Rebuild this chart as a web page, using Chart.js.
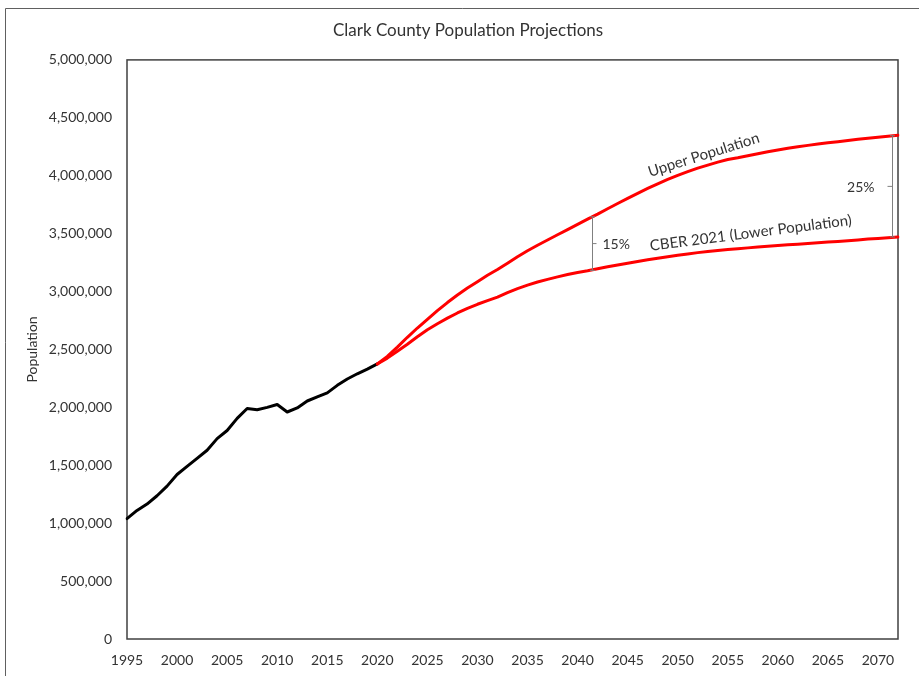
<!DOCTYPE html>
<html>
<head>
<meta charset="utf-8">
<script src="https://cdn.jsdelivr.net/npm/chart.js@4"></script>
<style>
  html, body { margin: 0; padding: 0; background: #fff; }
  #c { display: block; }
</style>
</head>
<body>
<canvas id="c" width="919" height="676"></canvas>
<script>
// ---- Data ----
const years = [1995,1996,1997,1998,1999,2000,2001,2002,2003,2004,2005,2006,2007,2008,2009,2010,
  2011,2012,2013,2014,2015,2016,2017,2018,2019,2020,2021,2022,2023,2024,2025,2026,2027,2028,2029,2030,
  2031,2032,2033,2034,2035,2036,2037,2038,2039,2040,2041,2042,2043,2044,2045,2046,2047,2048,2049,2050,
  2051,2052,2053,2054,2055,2056,2057,2058,2059,2060,2061,2062,2063,2064,2065,2066,2067,2068,2069,2070,
  2071,2072];

// Historical population 1995-2020
const historical = [1040000,1110000,1165000,1237000,1320000,1420000,1490000,1560000,1630000,1730000,
  1800000,1905000,1990000,1980000,2000000,2025000,1960000,1995000,2055000,2090000,2125000,2190000,
  2245000,2290000,2330000,2375000];

// Upper projection 2020-2072
const upperPopulation = [2375000,2440000,2520000,2605000,2685000,2760000,2835000,2905000,2970000,3030000,
  3085000,3140000,3190000,3245000,3300000,3352000,3400000,3445000,3490000,3535000,3580000,3625000,3668000,
  3715000,3760000,3805000,3848000,3890000,3930000,3968000,4003000,4035000,4065000,4092000,4117000,4140000,
  4155000,4172000,4190000,4207000,4222000,4237000,4250000,4262000,4273000,4284000,4294000,4304000,4314000,
  4323000,4332000,4341000,4350000];

// CBER 2021 (lower) projection 2020-2072
const lowerPopulation = [2375000,2425000,2485000,2545000,2610000,2670000,2722000,2770000,2815000,2855000,
  2890000,2922000,2952000,2990000,3025000,3055000,3082000,3105000,3127000,3147000,3165000,3180000,3197000,
  3214000,3230000,3245000,3260000,3274000,3288000,3301000,3313000,3325000,3336000,3346000,3355000,3363000,
  3370000,3377000,3384000,3391000,3397000,3403000,3409000,3415000,3421000,3427000,3433000,3439000,3446000,
  3453000,3459000,3465000,3471000];

const projectionStart = 2020;

// Gap annotations: label, year, upper value, lower value
const gapLabels = ['15%', '25%'];
const gapYears = [2041.4, 2071.4];
const gapTop = [3645000, 4345000];
const gapBottom = [3183000, 3471000];

// Curve labels
const curveLabels = ['Upper Population', 'CBER 2021 (Lower Population)'];
const curveLabelYears = [2052.6, 2057.3];
const curveLabelValues = [4180000, 3505000];
const curveLabelAngles = [-17.5, -7.3];

// ---- Build series aligned to category axis ----
const nHist = historical.length;
const histSeries = years.map((y, i) => i < nHist ? historical[i] : null);
const offs = years.indexOf(projectionStart);
const upperSeries = years.map((y, i) => i >= offs ? upperPopulation[i - offs] : null);
const lowerSeries = years.map((y, i) => i >= offs ? lowerPopulation[i - offs] : null);

const FONT = 'Lato, "Open Sans", sans-serif';
const TXT = '#333333';

const decor = {
  id: 'decor',
  beforeDraw(chart) {
    const c = chart.ctx;
    c.save();
    c.fillStyle = '#ffffff';
    c.fillRect(0, 0, chart.width, chart.height);
    c.strokeStyle = '#606060';
    c.lineWidth = 1;
    c.beginPath();
    c.moveTo(5.5, chart.height);
    c.lineTo(5.5, 8.5);
    c.lineTo(chart.width, 8.5);
    c.stroke();
    c.restore();
  },
  beforeDatasetsDraw(chart) {
    const c = chart.ctx;
    const a = chart.chartArea;
    c.save();
    c.strokeStyle = '#404040';
    c.lineWidth = 1.5;
    c.strokeRect(a.left, a.top, a.right - a.left, a.bottom - a.top);
    c.restore();
  },
  afterDatasetsDraw(chart) {
    const c = chart.ctx;
    const xs = chart.scales.x, ys = chart.scales.y;
    c.save();
    // gap brackets
    c.strokeStyle = '#808080';
    c.lineWidth = 1;
    c.fillStyle = TXT;
    c.font = '14px ' + FONT;
    c.textBaseline = 'middle';
    gapLabels.forEach((lab, i) => {
      const x = Math.round(xs.getPixelForValue(gapYears[i] - years[0])) + 0.5;
      const yt = ys.getPixelForValue(gapTop[i]);
      const yb = ys.getPixelForValue(gapBottom[i]);
      const ym = (yt + yb) / 2;
      c.beginPath();
      c.moveTo(x - 2.5, yt); c.lineTo(x + 2.5, yt);
      c.moveTo(x, yt); c.lineTo(x, yb);
      c.moveTo(x - 2.5, yb); c.lineTo(x + 2.5, yb);
      if (i === 0) { c.moveTo(x, ym); c.lineTo(x + 4, ym); }
      else { c.moveTo(x, ym); c.lineTo(x - 5, ym); }
      c.stroke();
      if (i === 0) { c.textAlign = 'left'; c.fillText(lab, x + 10, ym + 1); }
      else { c.textAlign = 'right'; c.fillText(lab, x - 18, ym + 1); }
    });
    // curve labels
    c.font = '15px ' + FONT;
    c.textAlign = 'center';
    c.textBaseline = 'middle';
    curveLabels.forEach((lab, i) => {
      const x = xs.getPixelForValue(curveLabelYears[i] - years[0]);
      const y = ys.getPixelForValue(curveLabelValues[i]);
      c.save();
      c.translate(x, y);
      c.rotate(curveLabelAngles[i] * Math.PI / 180);
      c.fillText(lab, 0, 0);
      c.restore();
    });
    c.restore();
  }
};

new Chart(document.getElementById('c'), {
  type: 'line',
  data: {
    labels: years,
    datasets: [
      { label: 'Upper Population', data: upperSeries, borderColor: '#ff0000', borderWidth: 3, pointRadius: 0, tension: 0, spanGaps: false, borderCapStyle: 'round', borderJoinStyle: 'round' },
      { label: 'CBER 2021 (Lower Population)', data: lowerSeries, borderColor: '#ff0000', borderWidth: 3, pointRadius: 0, tension: 0, spanGaps: false, borderCapStyle: 'round', borderJoinStyle: 'round' },
      { label: 'Historical', data: histSeries, borderColor: '#000000', borderWidth: 3, pointRadius: 0, tension: 0, spanGaps: false, borderCapStyle: 'round', borderJoinStyle: 'round' }
    ]
  },
  options: {
    responsive: false,
    animation: false,
    layout: { padding: { left: 38, right: 21, top: 0, bottom: 0 } },
    plugins: {
      legend: { display: false },
      tooltip: { enabled: false },
      title: {
        display: true,
        text: 'Clark County Population Projections',
        color: TXT,
        font: { family: FONT, size: 17, weight: 'normal' },
        padding: { top: 20.5, bottom: 19 }
      }
    },
    scales: {
      x: {
        type: 'category',
        offset: false,
        grid: { display: false, drawTicks: false },
        border: { display: false },
        ticks: {
          autoSkip: false, maxRotation: 0, minRotation: 0, padding: 13,
          color: TXT, font: { family: FONT, size: 14 },
          callback: function(v, i) { const yr = years[i]; return (yr - years[0]) % 5 === 0 ? String(yr) : ''; }
        },
        afterFit(s) { s.height = 37; }
      },
      y: {
        min: 0, max: 5000000,
        grid: { display: false, drawTicks: false },
        border: { display: false },
        ticks: {
          stepSize: 500000, padding: 15, color: TXT, font: { family: FONT, size: 14 },
          callback: v => v.toLocaleString('en-US')
        },
        title: { display: true, text: 'Population', color: TXT, font: { family: FONT, size: 14 }, padding: { top: -14, bottom: 0 } },
        afterFit(s) { s.width = 89; }
      }
    }
  },
  plugins: [decor]
});
</script>
</body>
</html>
